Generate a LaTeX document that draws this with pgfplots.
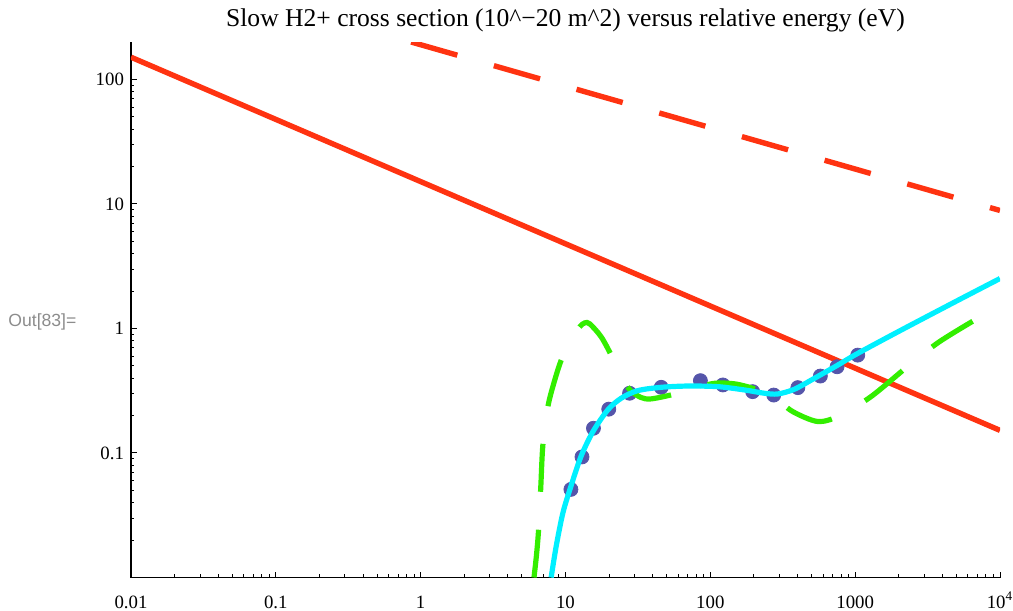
\documentclass[border=0pt]{standalone}
\usepackage{pgfplots}
\pgfplotsset{compat=1.18}
\usepackage{fontspec}
\setmainfont{Liberation Serif}
\newfontfamily\labelsans{Liberation Sans}
\definecolor{mred}{RGB}{255,51,17}
\definecolor{mcyan}{RGB}{0,240,255}
\definecolor{mgreen}{RGB}{51,238,0}
\definecolor{mblue}{RGB}{85,85,170}
\definecolor{outgray}{RGB}{140,140,140}
\begin{document}
\begin{tikzpicture}
\useasboundingbox (-65.5pt,-16.75pt) rectangle (441pt,288.75pt);
\begin{axis}[
  at={(0,0)}, anchor=south west,
  scale only axis, width=434.5pt, height=267.75pt,
  xmode=log, ymode=log,
  xmin=0.01, xmax=10000, ymin=0.01, ymax=200,
  axis x line=bottom, axis y line=left,
  axis line style={-, line width=0.6pt},
  tick align=inside,
  major tick length=3pt, minor tick length=1.75pt,
  every tick/.style={black, line width=0.5pt},
  xtick={0.01,0.1,1,10,100,1000,10000},
  xticklabels={0.01,0.1,1,10,100,1000,10\textsuperscript{4}},
  ytick={0.1,1,10,100},
  yticklabels={0.1,1,10,100},
  minor xtick={0.02,0.03,0.04,0.05,0.06,0.07,0.08,0.09,0.2,0.3,0.4,0.5,0.6,0.7,0.8,0.9,2,3,4,5,6,7,8,9,20,30,40,50,60,70,80,90,200,300,400,500,600,700,800,900,2000,3000,4000,5000,6000,7000,8000,9000},
  minor ytick={0.02,0.03,0.04,0.05,0.06,0.07,0.08,0.09,0.2,0.3,0.4,0.5,0.6,0.7,0.8,0.9,2,3,4,5,6,7,8,9,20,30,40,50,60,70,80,90},
  ticklabel style={font=\fontsize{9.4}{11}\selectfont},
  xticklabel style={anchor=base, yshift=-15.4pt},
  yticklabel style={anchor=east},
  title={Slow H2+ cross section (10\textasciicircum −20 m\textasciicircum 2) versus relative energy (eV)},
  every axis title/.style={at={(0.5,1)}, anchor=center, yshift=11pt, font=\fontsize{12.8}{15}\selectfont},
  clip=true, clip mode=individual,
]
\addplot[mred, line width=2.7pt] coordinates {(0.01,151) (10000,0.152)};
\addplot[mred, line width=2.7pt, dash pattern=on 24pt off 19pt] coordinates {(0.86,200) (10000,8.87)};
\addplot[only marks, mark=*, mark size=3.5pt, color=mblue, mark options={fill=mblue, draw=mblue}] coordinates {
(10.9,0.051) (13.0,0.093) (15.6,0.158) (19.9,0.225) (27.7,0.302) (45.8,0.337) (85.4,0.381) (122,0.352) (196,0.311) (274,0.292) (402,0.335) (575,0.415) (750,0.493) (1042,0.611)};
\addplot[mgreen, line width=2.6pt, dash pattern=on 24pt off 19pt, smooth] coordinates {
(6.06,0.0100) (6.3,0.0150) (6.51,0.0236) (6.75,0.053) (6.98,0.116) (7.56,0.236) (8.4,0.38) (9.34,0.557) (10.8,0.805) (12.5,1.03) (13.6,1.11) (14.7,1.09) (17.6,0.86) (20.7,0.611) (24,0.43) (27.6,0.325) (33,0.28) (39,0.272) (56.5,0.297) (77,0.33) (107,0.363) (150,0.358) (213,0.321) (280,0.277) (371,0.215) (552,0.179) (778,0.199) (1288,0.284) (2366,0.509) (3812,0.782) (7396,1.25) (10000,1.48)};
\addplot[mcyan, line width=2.6pt, smooth] coordinates {
(7.96,0.0100) (8.63,0.0179) (9.6,0.0331) (10.9,0.054) (12.8,0.094) (15.5,0.149) (19.6,0.222) (24.2,0.275) (31.6,0.317) (45.8,0.337) (70,0.345) (113,0.341) (172,0.321) (236,0.302) (292,0.298) (380,0.325) (523,0.398) (758,0.508) (1042,0.631) (2075,0.97) (5105,1.68) (10000,2.52)};
\end{axis}
\node[anchor=west, inner sep=0pt, font=\labelsans\fontsize{8.8}{10}\selectfont, text=outgray] at (-61.5pt,127.75pt) {Out[83]=};
\end{tikzpicture}
\end{document}
